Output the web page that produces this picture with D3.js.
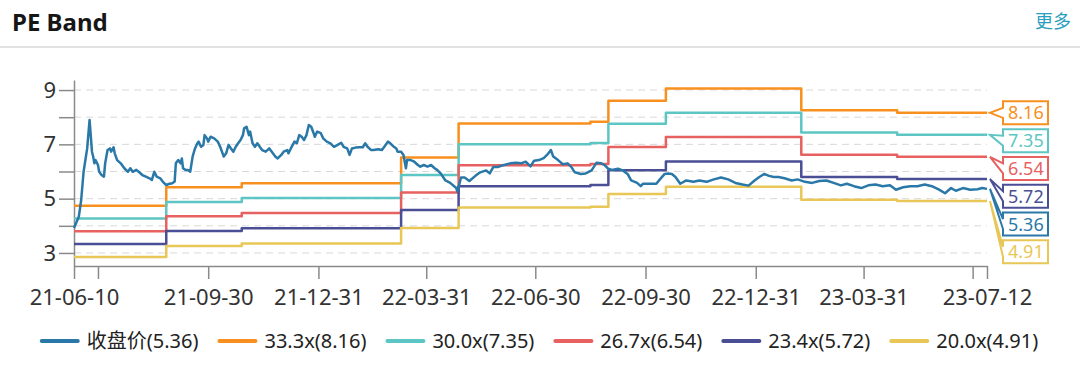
<!DOCTYPE html>
<html>
<head>
<meta charset="utf-8">
<script src="https://cdn.jsdelivr.net/npm/d3@7"></script>
<style>
  html, body { margin: 0; padding: 0; background: #fff; }
  body { width: 1080px; height: 371px; overflow: hidden; }
  svg { display: block; font-family: "Noto Sans", "Noto Sans CJK SC", sans-serif; }
</style>
</head>
<body>
<script>
// ===== PE Band 차트 =====
// 데이터: 종가 + PE 배수 밴드 5개

// 종가 날짜 / 값
const priceDates = [
  "2021-06-10","2021-06-14","2021-06-16","2021-06-18","2021-06-21","2021-06-23","2021-06-25","2021-06-26","2021-06-27","2021-06-28",
  "2021-06-30","2021-07-01","2021-07-03","2021-07-05","2021-07-06","2021-07-08","2021-07-10","2021-07-11","2021-07-13","2021-07-14",
  "2021-07-16","2021-07-19","2021-07-22","2021-07-25","2021-07-27","2021-07-29","2021-08-01","2021-08-03","2021-08-06","2021-08-09",
  "2021-08-12","2021-08-14","2021-08-16","2021-08-18","2021-08-21","2021-08-23","2021-08-26","2021-08-28","2021-08-31","2021-09-02",
  "2021-09-03","2021-09-05","2021-09-07","2021-09-08","2021-09-09","2021-09-11","2021-09-13","2021-09-15","2021-09-17","2021-09-19",
  "2021-09-21","2021-09-22","2021-09-24","2021-09-26","2021-09-27","2021-09-29","2021-09-30","2021-10-02","2021-10-05","2021-10-08",
  "2021-10-10","2021-10-13","2021-10-15","2021-10-17","2021-10-19","2021-10-21","2021-10-23","2021-10-25","2021-10-27","2021-10-29",
  "2021-10-30","2021-11-01","2021-11-03","2021-11-04","2021-11-06","2021-11-08","2021-11-10","2021-11-12","2021-11-14","2021-11-17",
  "2021-11-20","2021-11-23","2021-11-25","2021-11-27","2021-11-30","2021-12-02","2021-12-05","2021-12-06","2021-12-08","2021-12-11",
  "2021-12-13","2021-12-15","2021-12-17","2021-12-19","2021-12-21","2021-12-23","2021-12-25","2021-12-27","2021-12-28","2021-12-30",
  "2022-01-02","2022-01-04","2022-01-07","2022-01-10","2022-01-13","2022-01-16","2022-01-19","2022-01-21","2022-01-24","2022-01-26",
  "2022-01-28","2022-01-31","2022-02-03","2022-02-06","2022-02-08","2022-02-10","2022-02-13","2022-02-15","2022-02-19","2022-02-22",
  "2022-02-24","2022-02-27","2022-03-01","2022-03-04","2022-03-06","2022-03-07","2022-03-10","2022-03-12","2022-03-14","2022-03-15",
  "2022-03-18","2022-03-21","2022-03-24","2022-03-26","2022-03-29","2022-04-01","2022-04-04","2022-04-07","2022-04-09","2022-04-12",
  "2022-04-16","2022-04-20","2022-04-25","2022-04-26","2022-04-29","2022-05-02","2022-05-06","2022-05-11","2022-05-15","2022-05-20",
  "2022-05-23","2022-05-26","2022-05-30","2022-06-03","2022-06-09","2022-06-14","2022-06-18","2022-06-22","2022-06-26","2022-06-29",
  "2022-07-03","2022-07-07","2022-07-10","2022-07-13","2022-07-15","2022-07-19","2022-07-23","2022-07-27","2022-07-30","2022-08-02",
  "2022-08-07","2022-08-11","2022-08-16","2022-08-20","2022-08-24","2022-08-27","2022-08-30","2022-09-02","2022-09-07","2022-09-11",
  "2022-09-15","2022-09-18","2022-09-23","2022-09-26","2022-09-28","2022-10-04","2022-10-09","2022-10-12","2022-10-16","2022-10-19",
  "2022-10-22","2022-10-25","2022-10-29","2022-11-03","2022-11-09","2022-11-14","2022-11-20","2022-11-26","2022-12-02","2022-12-08",
  "2022-12-14","2022-12-20","2022-12-25","2022-12-30","2023-01-03","2023-01-07","2023-01-11","2023-01-15","2023-01-19","2023-01-24",
  "2023-01-30","2023-02-04","2023-02-10","2023-02-16","2023-02-22","2023-02-28","2023-03-06","2023-03-12","2023-03-17","2023-03-23",
  "2023-03-29","2023-04-04","2023-04-10","2023-04-16","2023-04-22","2023-04-27","2023-05-03","2023-05-09","2023-05-15","2023-05-21",
  "2023-05-27","2023-06-02","2023-06-07","2023-06-12","2023-06-16","2023-06-22","2023-06-28","2023-07-04","2023-07-08","2023-07-12"
];
const priceValues = [
  3.92,4.33,4.95,5.99,6.85,7.90,6.73,6.55,6.30,6.42,
  6.24,5.99,5.87,5.81,6.30,6.79,6.85,6.73,6.89,6.67,
  6.42,6.30,6.12,5.99,6.12,5.99,6.06,5.99,5.87,5.81,
  5.75,5.69,5.99,5.81,5.75,5.63,5.50,5.54,5.57,5.63,
  6.30,6.42,6.30,6.48,6.12,6.06,6.06,5.99,6.55,6.85,
  7.04,7.10,6.91,6.98,7.34,7.22,7.10,7.28,7.22,7.10,
  6.91,6.55,6.67,6.98,6.85,6.73,6.91,7.04,7.16,7.34,
  7.59,7.65,7.34,7.47,7.04,6.91,7.04,6.91,6.79,6.73,
  6.85,6.67,6.55,6.48,6.61,6.73,6.79,6.67,6.85,7.10,
  7.04,7.34,7.28,7.16,7.34,7.71,7.65,7.41,7.28,7.47,
  7.41,7.22,7.10,7.04,6.91,6.98,7.06,6.91,6.85,6.61,
  6.85,6.88,6.89,6.89,7.04,6.91,6.79,6.79,6.82,6.79,
  6.91,7.10,7.04,6.91,6.85,6.73,6.73,6.61,6.12,6.42,
  6.42,6.36,6.24,6.18,6.24,6.18,6.24,6.12,6.06,5.93,
  5.67,5.58,5.39,5.26,5.78,5.78,5.65,5.84,5.97,6.04,
  5.93,6.17,6.17,6.23,6.30,6.32,6.30,6.36,6.19,6.40,
  6.42,6.49,6.62,6.79,6.55,6.42,6.27,6.30,6.17,5.97,
  5.91,5.93,6.04,6.32,6.30,6.23,6.10,6.06,6.10,6.04,
  5.91,5.67,5.58,5.46,5.55,5.55,5.55,5.71,5.91,5.93,
  5.91,5.80,5.55,5.67,5.62,5.67,5.62,5.71,5.78,5.71,
  5.58,5.52,5.48,5.67,5.80,5.91,5.84,5.80,5.80,5.75,
  5.67,5.71,5.62,5.58,5.65,5.67,5.58,5.49,5.55,5.46,
  5.39,5.49,5.52,5.46,5.49,5.33,5.42,5.46,5.46,5.52,
  5.46,5.33,5.20,5.39,5.29,5.39,5.33,5.35,5.39,5.36
];

// 밴드 구간 시작일 (실적 발표 시점) / 마지막 날짜
const bandStarts = ["2021-06-10","2021-08-26","2021-10-28","2022-03-10","2022-04-27","2022-08-15","2022-08-30","2022-10-17","2023-02-07","2023-04-28"];
const endDate = "2023-07-12";

// 각 PE 배수 밴드 값 (구간별)
const band333 = [4.74, 5.42, 5.57, 6.52, 7.77, 7.83, 8.61, 9.06, 8.26, 8.16];
const band300 = [4.27, 4.88, 5.02, 5.87, 7.00, 7.05, 7.76, 8.16, 7.44, 7.35];
const band267 = [3.80, 4.35, 4.47, 5.23, 6.23, 6.28, 6.90, 7.27, 6.62, 6.54];
const band234 = [3.33, 3.81, 3.91, 4.58, 5.46, 5.50, 6.05, 6.37, 5.80, 5.72];
const band200 = [2.85, 3.26, 3.35, 3.92, 4.67, 4.70, 5.17, 5.44, 4.96, 4.91];

// 범례 이름 / 마지막 값 / 색상
const seriesNames = ["收盘价", "33.3x", "30.0x", "26.7x", "23.4x", "20.0x"];
const lastValues = [5.36, 8.16, 7.35, 6.54, 5.72, 4.91];
const seriesColors = ["#2a78a8", "#f7901e", "#5dc6c4", "#e6615f", "#4a4f95", "#e8c757"];

// 축 눈금
const yTicks = [3, 4, 5, 6, 7, 8, 9];
const yLabelTicks = [3, 5, 7, 9];
const xTicks = ["2021-06-10","2021-06-30","2021-09-30","2021-12-31","2022-03-31","2022-06-30","2022-09-30","2022-12-31","2023-03-31","2023-06-30","2023-07-12"];
const xHiddenLabels = ["2021-06-30", "2023-06-30"];

// ----- 기본 설정 -----
const W = 1080, H = 371;
const parse = d3.timeParse("%Y-%m-%d");
const fmt = d3.timeFormat("%y-%m-%d");

const svg = d3.select("body").append("svg").attr("width", W).attr("height", H);

// 제목 영역
svg.append("text").attr("x", 12).attr("y", 31)
  .attr("font-size", 24).attr("font-weight", "bold").attr("fill", "#161616")
  .text("PE Band");
svg.append("text").attr("x", 1071).attr("y", 28).attr("text-anchor", "end")
  .attr("font-size", 18).attr("fill", "#2b9dc0")
  .attr("font-family", "'Noto Sans CJK SC', sans-serif")
  .text("更多");
svg.append("rect").attr("x", 0).attr("y", 46).attr("width", W).attr("height", 2).attr("fill", "#e2e2e2");

// 스케일
const x = d3.scaleTime().domain([parse("2021-06-10"), parse(endDate)]).range([74, 987]);
const y = d3.scaleLinear().domain([2.52, 9.37]).range([266, 80]);

// 격자선 (점선)
svg.append("g").selectAll("line").data(yTicks).join("line")
  .attr("x1", x.range()[0]).attr("x2", x.range()[1])
  .attr("y1", d => y(d)).attr("y2", d => y(d))
  .attr("stroke", "#d9d9d9").attr("stroke-width", 1).attr("stroke-dasharray", "7,5");

// y축
const yAxis = svg.append("g").attr("transform", `translate(${x.range()[0]},0)`)
  .call(d3.axisLeft(y).tickValues(yTicks).tickSizeInner(15).tickSizeOuter(0).tickPadding(3)
    .tickFormat(d => yLabelTicks.includes(d) ? d : ""));

// x축
const xAxis = svg.append("g").attr("transform", `translate(0,${y.range()[0]})`)
  .call(d3.axisBottom(x).tickValues(xTicks.map(parse)).tickSizeInner(13).tickSizeOuter(0).tickPadding(10)
    .tickFormat(d => xHiddenLabels.includes(d3.timeFormat("%Y-%m-%d")(d)) ? "" : fmt(d)));

[yAxis, xAxis].forEach(g => {
  g.select(".domain").attr("stroke", "#8a8a8a").attr("stroke-width", 1.5);
  g.selectAll(".tick line").attr("stroke", "#8a8a8a").attr("stroke-width", 1.5);
  g.selectAll(".tick text").attr("fill", "#333").attr("font-size", 22)
    .attr("font-family", "'Noto Sans', sans-serif");
});

// 밴드 선 (계단형)
const bands = [band333, band300, band267, band234, band200];
const stepLine = d3.line().x(d => x(d[0])).y(d => y(d[1])).curve(d3.curveStepAfter);
bands.forEach((vals, i) => {
  const pts = bandStarts.map((s, j) => [parse(s), vals[j]]);
  pts.push([parse(endDate), vals[vals.length - 1]]);
  svg.append("path").datum(pts)
    .attr("d", stepLine)
    .attr("fill", "none")
    .attr("stroke", seriesColors[i + 1])
    .attr("stroke-width", 2.5)
    .attr("stroke-linejoin", "round");
});

// 종가 선
const priceLine = d3.line().x(d => x(d[0])).y(d => y(d[1]));
svg.append("path")
  .datum(priceDates.map((s, i) => [parse(s), priceValues[i]]))
  .attr("d", priceLine)
  .attr("fill", "none")
  .attr("stroke", seriesColors[0])
  .attr("stroke-width", 2.5)
  .attr("stroke-linejoin", "round");

// 오른쪽 끝 라벨 (말풍선 박스, 겹치지 않게 아래로 밀기)
const tipX = x.range()[1] + 3;
const boxX0 = 1003, boxX1 = 1048, boxH = 23, boxStep = 27.8;
const endLabels = lastValues.map((v, i) => ({ v, color: seriesColors[i], ty: y(v) }))
  .sort((a, b) => a.ty - b.ty);
let prevC = -Infinity;
endLabels.forEach(l => {
  l.c = Math.max(l.ty, prevC + boxStep);
  prevC = l.c;
});
const labelG = svg.append("g");
endLabels.forEach(l => {
  const y0 = l.c - boxH / 2, y1 = l.c + boxH / 2;
  const p = d3.path();
  p.moveTo(boxX0, y0);
  p.lineTo(boxX1, y0);
  p.lineTo(boxX1, y1);
  p.lineTo(boxX0, y1);
  p.lineTo(boxX0, l.c + 5);
  p.lineTo(tipX, l.ty);
  p.lineTo(boxX0, l.c - 5);
  p.closePath();
  labelG.append("path").attr("d", p.toString())
    .attr("fill", "#fff").attr("stroke", l.color).attr("stroke-width", 2)
    .attr("stroke-linejoin", "miter");
  labelG.append("text").attr("x", boxX0 + 5).attr("y", l.c)
    .attr("dy", "0.36em").attr("font-size", 18).attr("fill", l.color)
    .text(l.v.toFixed(2));
});

// 범례
const legend = svg.append("g");
let lx = 0;
seriesNames.forEach((name, i) => {
  const item = legend.append("g").attr("transform", `translate(${lx},0)`);
  item.append("line").attr("x1", 0).attr("x2", 36).attr("y1", 0).attr("y2", 0)
    .attr("stroke", seriesColors[i]).attr("stroke-width", 4).attr("stroke-linecap", "round");
  const t = item.append("text").attr("x", 45).attr("y", 0).attr("dy", "0.35em")
    .attr("font-size", 20).attr("fill", "#222")
    .text(`${name}(${lastValues[i].toFixed(2)})`);
  lx += 45 + t.node().getComputedTextLength() + 21;
});
const legendW = lx - 21;
legend.attr("transform", `translate(${(W - legendW) / 2},341)`);
</script>
</body>
</html>
